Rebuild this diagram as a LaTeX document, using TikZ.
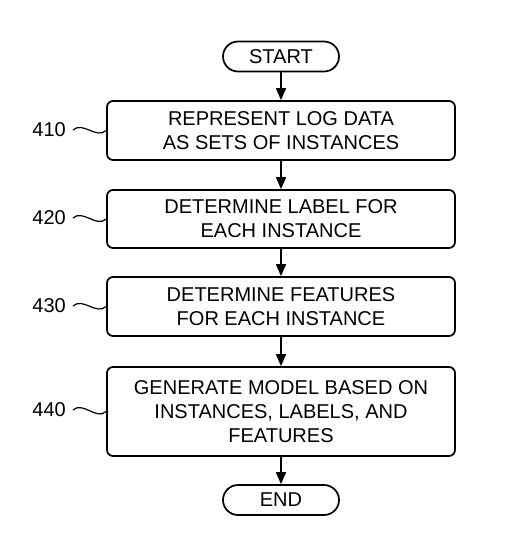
\documentclass[tikz,border=0pt]{standalone}
\usepackage{fontspec}
\setmainfont{Liberation Sans}
\usetikzlibrary{arrows.meta}
\tikzset{
  stepbox/.style={draw, line width=1.7pt, rounded corners=6pt, minimum width=348pt,
    align=center, font=\fontsize{20}{24}\selectfont, inner sep=0pt},
  termbox/.style={draw, line width=1.7pt, rounded corners=15pt, minimum width=116pt,
    minimum height=30pt, font=\fontsize{20}{24}\selectfont, inner sep=0pt},
  reflabel/.style={font=\fontsize{20}{24}\selectfont, inner sep=0pt},
  flow/.style={-{Triangle[length=12pt,width=10pt]}, line width=1.7pt},
}
\begin{document}
\begin{tikzpicture}[x=1pt,y=-1pt]
  \useasboundingbox (0,0) rectangle (510,556);
  % boxes
  \node[termbox] (start) at (281,56.5) {START};
  \node[stepbox, minimum height=59pt] (s410) at (281,130.5) {REPRESENT LOG DATA\\AS SETS OF INSTANCES};
  \node[stepbox, minimum height=58pt] (s420) at (281,219) {DETERMINE LABEL FOR\\EACH INSTANCE};
  \node[stepbox, minimum height=59pt] (s430) at (281,306.5) {DETERMINE FEATURES\\FOR EACH INSTANCE};
  \node[stepbox, minimum height=89pt] (s440) at (281,411.5) {GENERATE MODEL BASED ON\\INSTANCES, LABELS, AND\\FEATURES};
  \node[termbox] (end) at (281,500) {END};
  % arrows
  \draw[flow] (start) -- (s410);
  \draw[flow] (s410) -- (s420);
  \draw[flow] (s420) -- (s430);
  \draw[flow] (s430) -- (s440);
  \draw[flow] (s440) -- (end);
  % reference numerals
  \foreach \n/\y in {410/130, 420/218, 430/306, 440/410}{
    \node[reflabel, anchor=east] (l\n) at (66,\y) {\n};
    \draw[line width=1.2pt] ([xshift=7pt]l\n.east) .. controls ++(10,-9) and ++(-10,9) .. (s\n.west);
  }
\end{tikzpicture}
\end{document}
